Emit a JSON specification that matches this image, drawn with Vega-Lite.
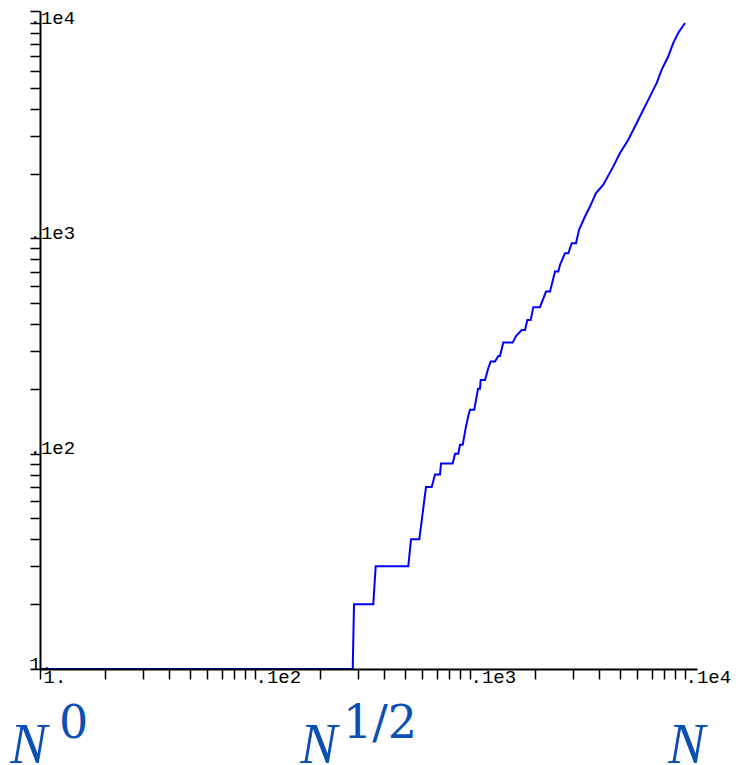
{
  "$schema": "https://vega.github.io/schema/vega-lite/v6.json",
  "autosize": "none",
  "width": 657,
  "height": 658,
  "padding": {"left": 40, "top": 11, "right": 39, "bottom": 96},
  "background": "white",
  "config": {"view": {"stroke": null}},
  "datasets": {
    "curve": [
      {"n": 10, "v": 10},
      {"n": 284.8, "v": 10},
      {"n": 288.7, "v": 20},
      {"n": 354.9, "v": 20},
      {"n": 364.2, "v": 30},
      {"n": 516.4, "v": 30},
      {"n": 531.6, "v": 40},
      {"n": 581, "v": 40},
      {"n": 624.2, "v": 70},
      {"n": 663.5, "v": 70},
      {"n": 687.6, "v": 80},
      {"n": 725.3, "v": 80},
      {"n": 733, "v": 90},
      {"n": 830.8, "v": 90},
      {"n": 851.6, "v": 100},
      {"n": 882.3, "v": 100},
      {"n": 898.4, "v": 110},
      {"n": 924.8, "v": 110},
      {"n": 952.8, "v": 130},
      {"n": 982, "v": 150},
      {"n": 1000, "v": 160},
      {"n": 1047, "v": 160},
      {"n": 1089.6, "v": 200},
      {"n": 1113, "v": 200},
      {"n": 1121, "v": 220},
      {"n": 1174.5, "v": 220},
      {"n": 1216.6, "v": 250},
      {"n": 1248.4, "v": 268},
      {"n": 1307, "v": 268},
      {"n": 1353.9, "v": 284},
      {"n": 1378.9, "v": 284},
      {"n": 1428.6, "v": 328},
      {"n": 1579.6, "v": 328},
      {"n": 1636.8, "v": 352},
      {"n": 1740, "v": 375},
      {"n": 1802.5, "v": 375},
      {"n": 1847.6, "v": 418},
      {"n": 1916, "v": 418},
      {"n": 1970, "v": 479},
      {"n": 2116.3, "v": 479},
      {"n": 2257, "v": 566},
      {"n": 2356, "v": 566},
      {"n": 2485.6, "v": 701},
      {"n": 2575, "v": 701},
      {"n": 2622, "v": 753},
      {"n": 2766, "v": 853},
      {"n": 2865.6, "v": 853},
      {"n": 2972, "v": 950},
      {"n": 3111.8, "v": 950},
      {"n": 3213.7, "v": 1095},
      {"n": 3426, "v": 1263},
      {"n": 3614.6, "v": 1405},
      {"n": 3855, "v": 1623},
      {"n": 4169, "v": 1774},
      {"n": 4640, "v": 2158},
      {"n": 4986, "v": 2491},
      {"n": 5448, "v": 2871},
      {"n": 5962, "v": 3434},
      {"n": 6289, "v": 3822},
      {"n": 6876, "v": 4565},
      {"n": 7386, "v": 5272},
      {"n": 7792, "v": 6078},
      {"n": 8362, "v": 7008},
      {"n": 8822, "v": 8088},
      {"n": 9307, "v": 9004},
      {"n": 10000, "v": 10000}
    ],
    "bases": [
      {"n": 7.25, "v": 3.67, "t": "N"},
      {"n": 161.9, "v": 3.67, "t": "N"},
      {"n": 8335, "v": 3.67, "t": "N"}
    ],
    "powers": [
      {"n": 12.26, "v": 4.8, "t": "0"},
      {"n": 256.7, "v": 4.8, "t": "1/2"}
    ]
  },
  "layer": [
    {
      "data": {"name": "curve"},
      "mark": {"type": "line", "color": "#0000ff", "strokeWidth": 2, "interpolate": "linear"},
      "encoding": {
        "x": {
          "field": "n", "type": "quantitative",
          "scale": {"type": "log", "domain": [10, 11370], "nice": false},
          "axis": {
            "values": [10, 20, 30, 40, 50, 60, 70, 80, 90, 100, 200, 300, 400, 500, 600, 700, 800, 900, 1000, 2000, 3000, 4000, 5000, 6000, 7000, 8000, 9000, 10000],
            "title": null, "grid": false, "zindex": 1,
            "domainColor": "black", "domainWidth": 2,
            "tickColor": "black", "tickWidth": 1.5, "tickSize": 10,
            "labelExpr": "datum.value == 10 ? '1.' : datum.value == 100 ? '.1e2' : datum.value == 1000 ? '.1e3' : datum.value == 10000 ? '.1e4' : ''",
            "labelAlign": "left", "labelBaseline": "alphabetic", "labelPadding": 3,
            "labelOffset": {"condition": {"test": "datum.value == 10", "value": 3}, "value": 0},
            "labelFont": "Liberation Mono", "labelFontSize": 19, "labelColor": "black",
            "labelOverlap": false, "labelFlush": false, "labelBound": false
          }
        },
        "y": {
          "field": "v", "type": "quantitative",
          "scale": {"type": "log", "domain": [10, 11370], "nice": false},
          "axis": {
            "values": [10, 20, 30, 40, 50, 60, 70, 80, 90, 100, 200, 300, 400, 500, 600, 700, 800, 900, 1000, 2000, 3000, 4000, 5000, 6000, 7000, 8000, 9000, 10000, 11370],
            "title": null, "grid": false, "zindex": 1,
            "domainColor": "black", "domainWidth": 2,
            "tickColor": "black", "tickWidth": 1.5, "tickSize": 10,
            "labelExpr": "datum.value == 10 ? '1.' : datum.value == 100 ? '.1e2' : datum.value == 1000 ? '.1e3' : datum.value == 10000 ? '.1e4' : ''",
            "labelAlign": "left", "labelBaseline": "alphabetic", "labelPadding": 1,
            "labelFont": "Liberation Mono", "labelFontSize": 19, "labelColor": "black",
            "labelOverlap": false, "labelFlush": false, "labelBound": false
          }
        }
      }
    },
    {
      "data": {"name": "bases"},
      "mark": {"type": "text", "font": "Liberation Serif", "fontStyle": "italic", "fontSize": 56, "align": "left", "baseline": "alphabetic", "color": "#0b4fb4"},
      "encoding": {
        "x": {"field": "n", "type": "quantitative", "scale": {"type": "log", "domain": [10, 11370], "nice": false}},
        "y": {"field": "v", "type": "quantitative", "scale": {"type": "log", "domain": [10, 11370], "nice": false}},
        "text": {"field": "t"}
      }
    },
    {
      "data": {"name": "powers"},
      "mark": {"type": "text", "font": "DejaVu Serif", "fontSize": 46, "align": "left", "baseline": "alphabetic", "color": "#0b4fb4"},
      "encoding": {
        "x": {"field": "n", "type": "quantitative", "scale": {"type": "log", "domain": [10, 11370], "nice": false}},
        "y": {"field": "v", "type": "quantitative", "scale": {"type": "log", "domain": [10, 11370], "nice": false}},
        "text": {"field": "t"}
      }
    }
  ]
}
